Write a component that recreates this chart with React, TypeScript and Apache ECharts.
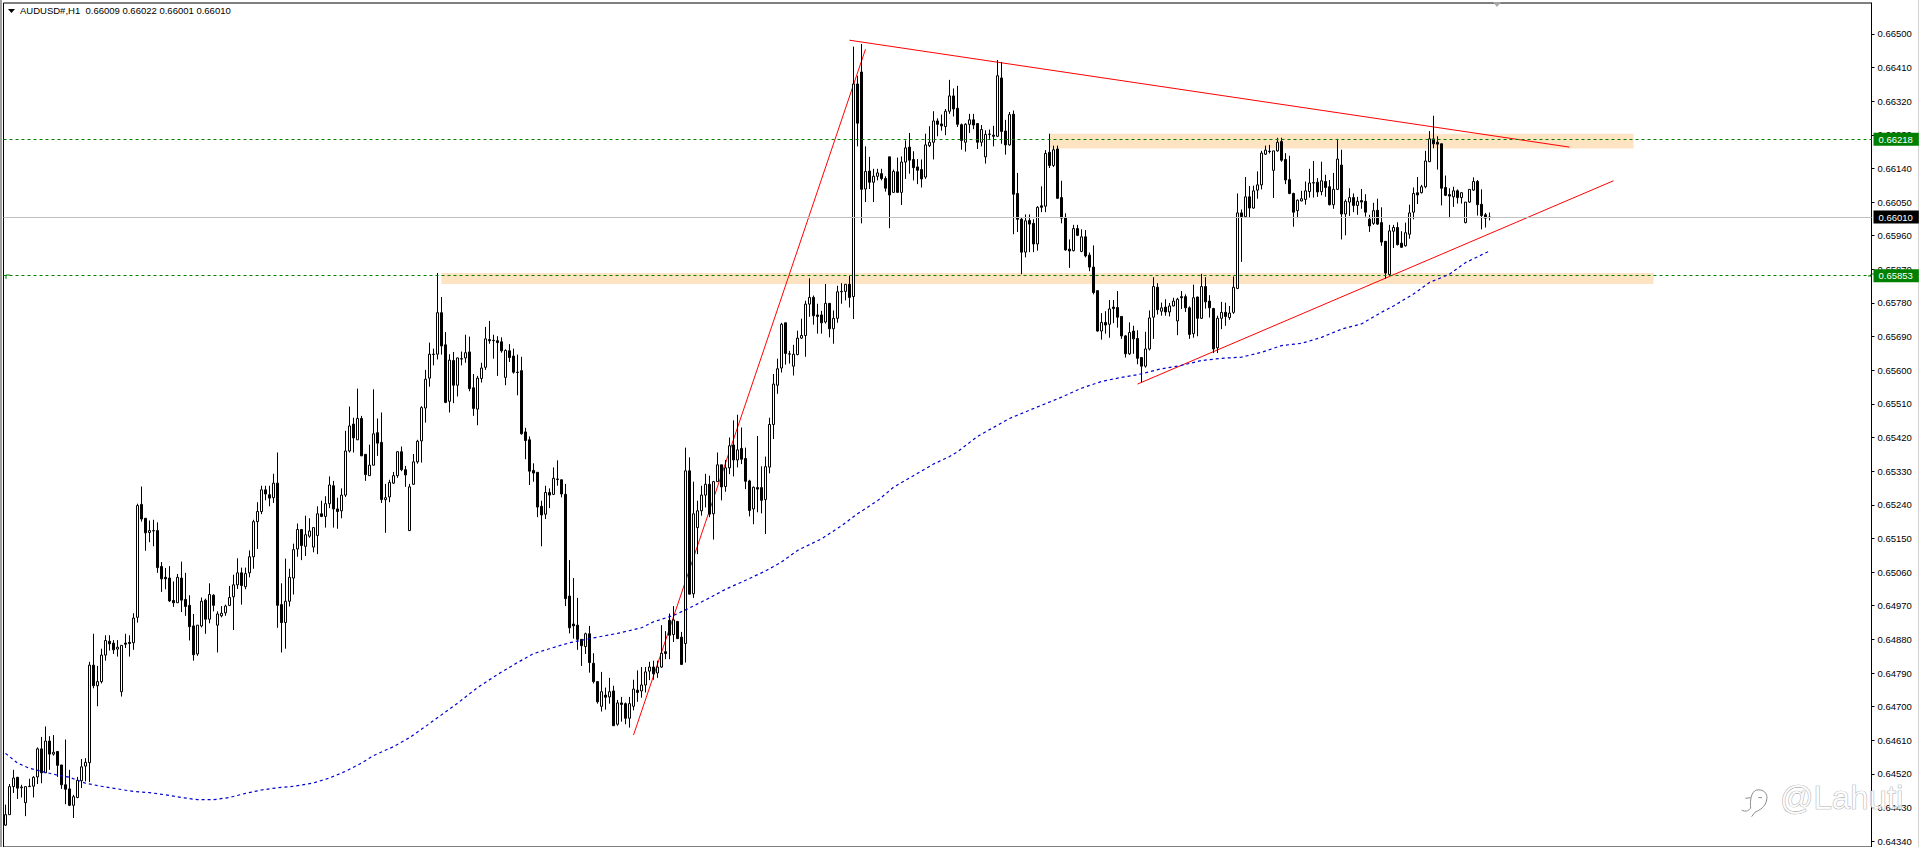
import React, { useEffect, useRef } from "react";
import * as echarts from "echarts";

// Quotes are in points (1 point = 0.00001). Each bar: [open, close, low, high]
const barsA = [
[64383,64411,64381,64438],[64411,64486,64411,64493],[64486,64509,64469,64531],[64511,64482,64453,64512],[64483,64485,64457,64491],
[64443,64486,64407,64486],[64486,64487,64486,64507],[64487,64511,64457,64514],[64512,64587,64493,64591],[64587,64523,64495,64619],
[64523,64608,64523,64647],[64608,64573,64531,64621],[64573,64578,64569,64624],[64580,64543,64512,64580],[64544,64491,64480,64544],
[64491,64479,64439,64612],[64480,64436,64434,64531],[64436,64459,64402,64464],[64457,64503,64455,64512],[64502,64539,64482,64560],
[64541,64551,64500,64562],[64550,64811,64498,64820],[64811,64756,64749,64895],[64756,64767,64701,64809],[64767,64838,64762,64855],
[64838,64877,64823,64891],[64875,64868,64850,64891],[64870,64852,64841,64878],[64854,64859,64834,64878],[64740,64864,64727,64864],
[64870,64867,64857,64895],[64872,64869,64834,64891],[64871,64937,64852,64950],[64939,65238,64925,65243],[65241,65202,65195,65289],
[65204,65165,65117,65204],[65166,65171,65140,65198],[65170,65171,65129,65200],[65171,65072,65058,65193],[65075,65042,65007,65087],
[65046,65042,65014,65071],[65044,64983,64980,65076],[64984,64978,64967,65035],[64978,65046,64978,65055],[65044,64985,64953,65088],
[64987,64968,64943,65058],[64971,64914,64877,64998],[64916,64839,64823,64948],[64841,64918,64836,64918],[64916,64982,64912,64992],
[64985,64934,64895,64989],[64934,65000,64923,65030],[64998,64971,64955,65001],[64918,64948,64845,64955],[64943,64950,64939,64969],
[64951,64969,64943,64973],[64971,64992,64969,65023],[64994,65026,64905,65053],[65026,65058,65015,65097],[65058,65024,64973,65072],
];
const barsB = [
[65021,65056,65014,65072],[65058,65101,65046,65118],[65101,65195,65069,65200],[65195,65222,65122,65247],[65222,65280,65215,65291],
[65280,65269,65252,65291],[65267,65258,65236,65291],[65259,65298,65245,65323],[65298,64971,64911,65380],[64973,64925,64845,65030],
[64925,64982,64855,65096],[64982,65046,64968,65069],[65044,65120,65000,65136],[65122,65174,65101,65190],[65174,65131,65092,65174],
[65129,65160,65103,65211],[65156,65170,65152,65204],[65127,65179,65113,65179],[65158,65216,65108,65236],[65216,65209,65207,65251],
[65209,65243,65179,65263],[65243,65293,65231,65316],[65291,65229,65179,65304],[65229,65222,65176,65259],[65224,65266,65204,65284],
[65266,65384,65261,65438],[65384,65451,65380,65503],[65456,65419,65380,65473],[65414,65471,65414,65551],[65471,65371,65371,65478],
[65375,65321,65304,65375],[65318,65346,65318,65401],[65346,65430,65346,65549],[65433,65405,65371,65471],[65407,65254,65245,65487],
[65254,65259,65165,65296],[65261,65300,65247,65307],[65298,65318,65296,65328],[65318,65382,65312,65384],[65382,65334,65330,65396],
[65334,65320,65288,65344],[65171,65288,65170,65296],[65295,65355,65293,65376],[65355,65410,65350,65414],[65411,65500,65353,65504],
[65499,65576,65460,65601],[65579,65643,65556,65674],[65642,65643,65613,65658],[65643,65754,65629,65860],[65754,65665,65642,65796],
[65668,65514,65512,65702],[65517,65627,65487,65643],[65626,65560,65512,65649],[65560,65633,65530,65634],[65630,65631,65613,65650],
[65633,65647,65620,65695],[65649,65551,65544,65690],[65553,65498,65478,65590],[65496,65579,65453,65585],
];
const barsC = [
[65578,65606,65567,65620],[65608,65684,65601,65716],[65682,65679,65671,65732],[65680,65679,65631,65695],[65679,65674,65585,65691],
[65676,65652,65647,65688],[65581,65653,65560,65656],[65652,65634,65622,65670],[65638,65595,65591,65658],[65595,65594,65533,65642],
[65599,65430,65428,65636],[65435,65412,65362,65446],[65414,65330,65293,65423],[65332,65325,65302,65351],[65327,65234,65207,65327],
[65236,65213,65129,65251],[65215,65273,65202,65291],[65273,65266,65231,65284],[65268,65311,65266,65340],[65309,65308,65291,65359],
[65307,65269,65260,65307],[65268,64989,64969,65296],[64996,64911,64896,65092],[64921,64916,64882,65044],[64918,64880,64852,64991],
[64880,64863,64809,64880],[64861,64895,64841,64898],[64895,64818,64791,64916],[64816,64767,64762,64843],[64767,64713,64708,64767],
[64701,64740,64687,64793],[64731,64725,64692,64751],[64726,64740,64708,64777],[64742,64649,64649,64756],[64653,64710,64649,64718],
[64710,64706,64660,64726],[64708,64669,64653,64711],[64669,64708,64644,64726],[64701,64747,64690,64772],[64744,64738,64713,64797],
[64742,64758,64724,64806],[64758,64793,64738,64806],[64795,64806,64771,64820],[64806,64788,64772,64823],[64790,64806,64777,64823],
[64806,64843,64804,64918],[64847,64842,64827,64902],[64931,64891,64827,64949],[64893,64932,64873,64969],[64928,64882,64882,64928],
[64886,64813,64813,64900],[64869,65331,64818,65393],[65331,65001,65001,65367],[65002,65216,64991,65302],[65179,65224,65108,65251],
[65224,65266,65211,65291],[65266,65295,65233,65323],[65295,65215,65207,65318],[65216,65302,65147,65304],[65302,65347,65302,65380],
[65347,65288,65252,65347],[65289,65339,65275,65360],[65339,65398,65322,65420],[65400,65360,65316,65466],[65360,65387,65340,65481],
[65391,65362,65349,65447],[65364,65303,65282,65393],[65304,65225,65209,65307],[65229,65287,65188,65289],[65286,65282,65220,65424],
[65286,65252,65217,65343],[65254,65342,65162,65369],[65341,65455,65324,65473],[65455,65563,65416,65590],[65560,65604,65537,65631],
[65606,65723,65594,65727],[65727,65645,65615,65727],[65643,65644,65618,65652],[65611,65643,65586,65668],[65642,65686,65640,65706],
[65686,65693,65684,65738],[65693,65777,65636,65786],[65777,65795,65743,65846],[65795,65746,65722,65800],[65748,65744,65698,65778],
[65748,65727,65698,65759],[65729,65779,65725,65831],[65779,65711,65688,65780],[65711,65739,65671,65760],[65739,65810,65727,65826],
[65811,65810,65778,65833],[65811,65830,65787,65830],[65830,65795,65768,65853],
];
const barsD = [
[65797,66366,65737,66466],[66366,66261,66199,66388],[66398,66084,65993,66473],[66085,66132,66050,66199],[66133,66103,66085,66171],
[66103,66119,66050,66139],[66119,66128,66108,66139],[66126,66113,66108,66139],[66113,66087,66078,66119],[66171,66069,65980,66171],
[66076,66132,66075,66137],[66131,66076,66075,66169],[66076,66157,66042,66172],[66157,66195,66112,66215],[66197,66162,66126,66235],
[66164,66142,66108,66186],[66144,66135,66098,66165],[66137,66112,66089,66164],[66117,66203,66112,66233],[66201,66210,66197,66253],
[66210,66267,66164,66293],[66267,66258,66226,66274],[66259,66254,66241,66284],[66252,66293,66229,66299],[66293,66334,66286,66377],
[66334,66299,66279,66354],[66301,66258,66251,66361],[66257,66215,66190,66260],[66210,66258,66185,66261],[66258,66270,66235,66286],
[66270,66256,66245,66286],[66260,66210,66192,66260],[66210,66244,66199,66256],[66171,66231,66153,66242],[66231,66232,66219,66244],
[66229,66226,66199,66254],[66226,66388,66224,66430],[66382,66239,66206,66425],[66240,66203,66177,66270],[66203,66284,66201,66291],
[66285,66071,65964,66295],[66073,66004,65970,66128],[66004,65916,65857,66008],[65916,66000,65902,66017],[66001,65991,65916,66017],
[65993,65938,65916,66004],[65938,66036,65920,66039],[66040,66036,66023,66092],[66039,66180,66023,66189],[66183,66148,66141,66233],
[66148,66190,66144,66201],[66192,66060,66059,66201],[66062,66007,65993,66107],[66009,65922,65920,66020],[65924,65919,65874,65950],
[65920,65979,65918,65989],[65979,65961,65959,65989],[65918,65957,65916,65977],[65957,65906,65902,65975],[65908,65876,65865,65915],
[65876,65808,65803,65934],
];
const barsE = [
[65813,65705,65703,65813],[65705,65728,65682,65753],[65728,65721,65698,65758],[65723,65764,65687,65788],[65769,65765,65726,65788],
[65768,65742,65714,65812],[65744,65692,65684,65744],[65692,65644,65634,65694],[65644,65701,65641,65728],[65705,65684,65644,65719],
[65685,65632,65616,65707],[65634,65611,65568,65634],[65611,65657,65607,65703],[65657,65740,65653,65760],[65742,65824,65684,65849],
[65822,65762,65749,65833],[65758,65767,65746,65781],[65769,65756,65746,65790],[65756,65772,65744,65780],[65772,65785,65771,65794],
[65732,65790,65694,65794],[65797,65794,65764,65812],[65797,65767,65756,65803],[65767,65696,65684,65771],[65698,65794,65687,65829],
[65796,65739,65691,65797],[65739,65824,65737,65858],[65824,65783,65765,65849],[65785,65767,65741,65801],[65765,65657,65646,65767],
[65660,65739,65646,65746],[65739,65755,65710,65783],[65755,65744,65719,65781],[65741,65753,65735,65772],[65755,65822,65751,65851],
[65819,66021,65817,66073],[66021,66011,65890,66030],[66011,66064,66009,66117],[66064,66034,66009,66093],[66034,66080,66032,66094],
[66082,66096,66059,66132],[66096,66181,66084,66187],[66178,66189,66176,66201],[66186,66185,66180,66203],[66135,66187,66061,66187],
[66187,66210,66185,66222],[66212,66162,66158,66222],[66164,66109,66098,66181],[66110,66073,66071,66174],[66073,66023,65984,66075],
[66027,66055,66007,66057],[66053,66059,66052,66080],[66057,66080,66043,66105],[66078,66101,66062,66139],[66101,66102,66062,66160],
[66103,66077,66064,66114],[66078,66107,66068,66158],[66105,66089,66064,66123],[66091,66043,66041,66109],[66043,66084,66032,66128],
[66084,66165,66082,66219],[66149,66018,65950,66190],[66018,66052,65961,66057],[66050,66062,66013,66087],[66062,66041,66023,66073],
[66041,66052,66016,66064],[66054,66050,66032,66085],[66052,66023,66011,66071],[66004,65986,65970,66016],[65993,66027,65989,66048],
[66028,65991,65989,66059],[65995,65943,65933,66036],[65945,65860,65845,65945],[65856,65973,65853,65989],[65972,65982,65927,65989],
[65982,65936,65934,65996],[65940,65929,65927,65972],[65933,65968,65931,65995],[65964,66021,65952,66043],[66023,66073,66004,66089],
[66075,66069,66045,66117],[66075,66091,66073,66096],[66091,66160,66087,66187],[66158,66219,66157,66240],[66219,66206,66194,66281],
[66210,66205,66137,66226],[66206,66087,66041,66206],[66089,66068,66066,66121],[66070,66066,66007,66087],[66064,66080,66037,66091],
[66080,66062,66046,66084],[66062,66075,66046,66077],[65995,66050,65993,66050],[66050,66084,66048,66085],[66082,66105,66080,66116],
[66105,66043,66014,66109],[66044,66014,65977,66084],[66016,66007,65982,66021],[66009,66010,66001,66022],
];

const totalSlots = 467; // bar slots across the plot, including the empty space right of the last bar

// Moving average, read at these bar numbers
const maBars = [0,3,6,9,12,16,20,24,28,32,36,40,44,48,52,56,60,64,68,72,77,81,85,89,92,97,101,105,109,113,118,123,128,132,136,141,147,153,159,162,167,171,176,180,185,190,194,198,204,209,213,218,222,227,232,236,238,243,251,258,264,269,274,279,283,289,294,299,304,309,314,319,324,329,334,339,344,347,352,356,361,365,371];
const maValues = [64575,64549,64535,64527,64519,64511,64495,64487,64480,64473,64470,64464,64457,64451,64451,64457,64468,64477,64483,64487,64496,64509,64527,64549,64569,64593,64617,64647,64678,64709,64751,64786,64818,64842,64855,64871,64884,64896,64911,64927,64944,64964,64991,65014,65038,65063,65087,65118,65149,65184,65216,65251,65287,65318,65349,65369,65382,65423,65471,65502,65528,65552,65570,65581,65588,65604,65613,65626,65632,65635,65648,65666,65672,65688,65710,65724,65755,65772,65804,65835,65857,65888,65919];

// Trend lines: [bar, price] at both ends
const trendSteep = [[157,64624],[215,66459]];
const trendFalling = [[211,66483],[391,66197]];
const trendRising = [[283,65563],[402,66107]];

// Support / resistance zones
const upperZone = { from: 261, to: 407, top: 66233, bottom: 66193 };
const lowerZone = { from: 109, to: 412, top: 65860, bottom: 65831 };

const resistanceLevel = 66218;
const supportLevel = 65853;
const lastPrice = 66010;

const tickLabels = [66500,66410,66320,66230,66140,66050,65960,65870,65780,65690,65600,65510,65420,65330,65240,65150,65060,64970,64880,64790,64700,64610,64520,64430,64340];

const headerText = "AUDUSD#,H1  0.66009 0.66022 0.66001 0.66010";
const watermarkText = "@Lahuti";

const FONT = "'Liberation Sans', Arial, sans-serif";
const fmt = (v: number) => (v / 100000).toFixed(5);

const LOGO_D = "M62 100 C60 80 62 50 80 45 C100 42 115 55 110 75 C107 95 90 105 75 112 L65 125 M62 100 C55 108 45 112 35 105 M46 70 L62 68 M85 68 L96 68";
echarts.graphic.registerShape("logo", echarts.graphic.extendPath(LOGO_D, {}) as any);

export default function App() {
  const ref = useRef<HTMLDivElement>(null);
  useEffect(() => {
    document.body.style.margin = "0";
    const chart = echarts.init(ref.current!, undefined, { renderer: "svg" });
    const bars = [...barsA, ...barsB, ...barsC, ...barsD, ...barsE];
    const categories = Array.from({ length: totalSlots }, (_, i) => String(i));
    const trend = (data: number[][]) => ({
      type: "line", data, z: 3, symbol: "none", silent: true,
      lineStyle: { color: "#ff0000", width: 1 },
    });
    const level = (v: number, color: string, bg: string, dashed: boolean) => ({
      yAxis: v,
      lineStyle: { color, width: 1, type: dashed ? [3, 3] : "solid" },
      label: {
        show: true, position: "end", distance: 2, formatter: () => fmt(v),
        color: "#ffffff", backgroundColor: bg, fontSize: 9.5, fontFamily: FONT,
        padding: [2, 6, 1, 5],
      },
    });
    chart.setOption({
      animation: false,
      backgroundColor: "#ffffff",
      title: {
        text: headerText, left: 20, top: 5, padding: 0,
        textStyle: { fontSize: 9.5, fontWeight: "normal", color: "#000", fontFamily: FONT },
      },
      grid: { left: 3.5, right: 47.5, top: 3, bottom: -3, show: true, borderColor: "#000", borderWidth: 1, backgroundColor: "#fff" },
      xAxis: { type: "category", data: categories, show: false, boundaryGap: true },
      yAxis: {
        type: "value", position: "right", min: 64324.5, max: 66582.6, scale: true,
        splitLine: { show: false },
        axisLine: { show: true, lineStyle: { color: "#000", width: 1 } },
        axisTick: { show: true, length: 3, lineStyle: { color: "#000" }, customValues: tickLabels },
        axisLabel: {
          show: true, margin: 6, color: "#000", fontSize: 9.5, fontFamily: FONT,
          formatter: (v: number) => fmt(v), customValues: tickLabels,
        },
      },
      series: [
        {
          type: "line", data: [], z: 1, silent: true,
          markArea: {
            silent: true,
            itemStyle: { color: "#ffe4c4" },
            data: [upperZone, lowerZone].map((b) => [
              { xAxis: String(b.from), yAxis: b.top },
              { xAxis: String(b.to), yAxis: b.bottom },
            ]),
          },
        },
        {
          type: "line", data: [], z: 2, silent: true,
          markLine: {
            silent: true, symbol: ["none", "none"],
            data: [
              level(lastPrice, "#c0c0c0", "#000000", false),
              level(resistanceLevel, "#008000", "#008000", true),
              level(supportLevel, "#008000", "#008000", true),
            ],
          },
        },
        trend(trendSteep), trend(trendFalling), trend(trendRising),
        {
          type: "candlestick", data: bars, z: 4, barWidth: 3, silent: true,
          itemStyle: { color: "#ffffff", color0: "#000000", borderColor: "#000000", borderColor0: "#000000", borderWidth: 1 },
        },
        {
          type: "line", z: 5, symbol: "none", silent: true,
          data: maBars.map((b, i) => [b, maValues[i]]),
          lineStyle: { color: "#0000d0", width: 1.2, type: [3, 3] },
        },
      ],
      graphic: [
        { type: "rect", silent: true, shape: { x: 0, y: 0, width: 2, height: 847 }, style: { fill: "#a0a0a0" } },
        { type: "rect", silent: true, shape: { x: 1918, y: 0, width: 1, height: 847 }, style: { fill: "#d4d4d4" } },
        { type: "polygon", silent: true, shape: { points: [[8, 9], [15, 9], [11.5, 13]] }, style: { fill: "#000" } },
        { type: "polygon", silent: true, shape: { points: [[1493, 2], [1501, 2], [1497, 7]] }, style: { fill: "#a8a8a8" } },
        { type: "polyline", silent: true, shape: { points: [[6, 279], [6, 275], [10, 275]] }, style: { stroke: "#008000", fill: "none", lineWidth: 1 } },
        { type: "polyline", silent: true, shape: { points: [[1868, 276], [1871, 276], [1871, 274], [1874, 274]] }, style: { stroke: "#008000", fill: "none", lineWidth: 1 } },
        {
          type: "logo", x: 1730, y: 775, scaleX: 1 / 3, scaleY: 1 / 3, silent: true, z: 100,
          style: { fill: "none", stroke: "#8c8c8c", lineWidth: 3 },
        },
        {
          type: "text", x: 1780, y: 781, silent: true, z: 100,
          style: { text: watermarkText, fontSize: 33, fontFamily: FONT, fill: "rgba(255,255,255,0.8)", stroke: "#989898", lineWidth: 0.7 },
        },
      ],
    } as any);
    return () => chart.dispose();
  }, []);
  return <div ref={ref} style={{ position: "absolute", left: 0, top: 0, width: 1919, height: 847 }} />;
}
